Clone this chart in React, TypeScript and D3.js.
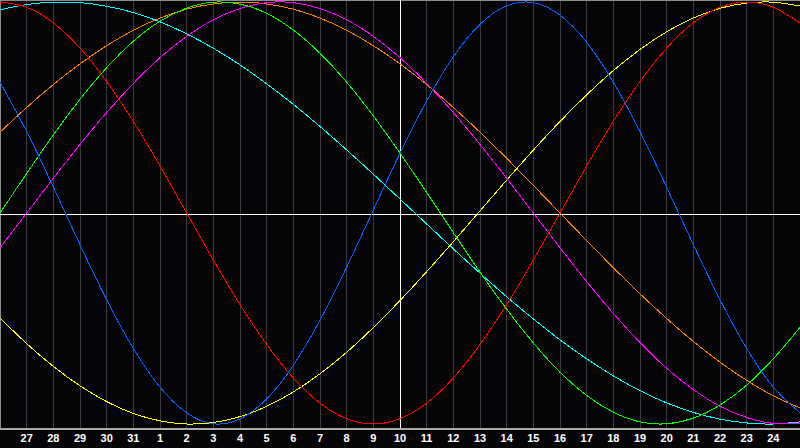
import * as d3 from "d3";

const WIDTH = 800;
const HEIGHT = 448;
const PLOT_BOTTOM = 428;

// day labels along the bottom; first grid column (x=0) is the 26th
const dayLabels = [
  "26", "27", "28", "29", "30", "31",
  "1", "2", "3", "4", "5", "6", "7", "8", "9", "10", "11", "12",
  "13", "14", "15", "16", "17", "18", "19", "20", "21", "22", "23", "24", "25",
];

// cycle values in percent, one per day
const physical = [62.0, 38.6, 12.3, -15.0, -41.1, -64.2, -82.5, -94.7, -99.9, -97.6, -88.1, -72.2, -50.8, -25.7, 1.4, 28.3, 53.1, 74.0, 89.4, 98.2, 99.7, 93.8, 80.9, 62.0, 38.6, 12.2, -15.0, -41.1, -64.2, -82.5, -94.7];
const emotional = [100, 97.5, 90.1, 78.2, 62.3, 43.4, 22.3, 0, -22.3, -43.4, -62.3, -78.2, -90.1, -97.5, -100, -97.5, -90.1, -78.2, -62.3, -43.4, -22.3, 0, 22.3, 43.4, 62.3, 78.2, 90.1, 97.5, 100, 97.5, 90.1];
const intellectual = [0, 18.7, 37.0, 53.9, 68.9, 81.4, 90.9, 97.1, 99.9, 99.0, 94.6, 86.7, 75.7, 62.0, 46.0, 28.4, 9.7, -9.3, -28.0, -45.6, -61.6, -75.5, -86.5, -94.4, -99.0, -99.9, -97.2, -91.0, -81.6, -69.1, -54.2];
const intuitive = [-16.5, 0, 16.5, 32.5, 47.6, 61.4, 73.6, 83.7, 91.6, 96.9, 99.7, 99.7, 96.9, 91.6, 83.7, 73.6, 61.4, 47.6, 32.5, 16.5, 0, -16.5, -32.5, -47.6, -61.4, -73.6, -83.7, -91.6, -96.9, -99.7, -99.7];
const aesthetic = [-49.8, -61.9, -72.7, -81.9, -89.4, -95.0, -98.5, -100, -99.3, -96.5, -91.6, -84.8, -76.2, -66.0, -54.3, -41.5, -27.8, -13.6, 1.0, 15.6, 29.8, 43.4, 56.0, 67.5, 77.5, 85.9, 92.4, 97.0, 99.5, 99.9, 98.1];
const awareness = [38.3, 50.0, 60.9, 70.7, 79.3, 86.6, 92.4, 96.6, 99.1, 100, 99.1, 96.6, 92.4, 86.6, 79.3, 70.7, 60.9, 50.0, 38.3, 25.9, 13.1, 0, -13.1, -25.9, -38.3, -50.0, -60.9, -70.7, -79.3, -86.6, -92.4];
const spiritual = [96.3, 98.8, 99.9, 99.7, 98.0, 95.0, 90.6, 84.9, 78.1, 70.2, 61.2, 51.5, 41.0, 29.9, 18.4, 6.6, -5.2, -17.0, -28.5, -39.7, -50.2, -60.1, -69.1, -77.2, -84.2, -90.0, -94.5, -97.7, -99.5, -100, -99.0];

const cycleNames = ["spiritual", "awareness", "aesthetic", "intuitive", "intellectual", "emotional", "physical"];
const cycleValues = [spiritual, awareness, aesthetic, intuitive, intellectual, emotional, physical];
const cycleColors = ["#00ffff", "#ff8000", "#ffff00", "#ff00ff", "#00ff00", "#ff0000", "#0066ff"];

export default function App() {
  const x = d3.scaleLinear().domain([0, dayLabels.length - 1]).range([0, WIDTH]);
  const y = d3.scaleLinear().domain([-100, 100]).range([424, 2]);

  const line = d3
    .line<number>()
    .x((_, i) => x(i))
    .y((d) => y(d))
    .curve(d3.curveNatural);

  const px = (v: number) => Math.floor(v) + 0.5;

  return (
    <svg
      width={WIDTH}
      height={HEIGHT}
      style={{ position: "absolute", left: 0, top: 0, background: "#050407" }}
    >
      <rect x={0} y={0} width={WIDTH} height={HEIGHT} fill="#050407" />
      {/* day grid */}
      {dayLabels.map((_, i) =>
        i === 0 || i === dayLabels.length - 1 ? null : (
          <line
            key={"g" + i}
            x1={px(x(i))}
            x2={px(x(i))}
            y1={0}
            y2={PLOT_BOTTOM}
            stroke="#3a3a3e"
            strokeWidth={1}
            shapeRendering="crispEdges"
          />
        )
      )}
      {/* frame */}
      <line x1={0} x2={WIDTH} y1={0.5} y2={0.5} stroke="#8c8c8c" shapeRendering="crispEdges" />
      <line x1={0.5} x2={0.5} y1={0} y2={PLOT_BOTTOM} stroke="#8c8c8c" shapeRendering="crispEdges" />
      {/* centre cross */}
      <line x1={0} x2={WIDTH} y1={214.5} y2={214.5} stroke="#ffffff" shapeRendering="crispEdges" />
      <line x1={px(x(15))} x2={px(x(15))} y1={0} y2={PLOT_BOTTOM} stroke="#ffffff" shapeRendering="crispEdges" />
      {/* cycles */}
      {cycleValues.map((vals, i) => (
        <path
          key={cycleNames[i]}
          d={line(vals) ?? ""}
          fill="none"
          stroke={cycleColors[i]}
          strokeWidth={1}
          shapeRendering="crispEdges"
        />
      ))}
      <line x1={0} x2={WIDTH} y1={PLOT_BOTTOM + 0.5} y2={PLOT_BOTTOM + 0.5} stroke="#a8a8a8" strokeWidth={2} shapeRendering="crispEdges" />
      {/* day labels */}
      {dayLabels.map((d, i) =>
        i === 0 || i === dayLabels.length - 1 ? null : (
          <text
            key={"t" + i}
            x={x(i)}
            y={442}
            textAnchor="middle"
            fill="#ffffff"
            fontFamily="Liberation Sans, Arial, sans-serif"
            fontWeight="bold"
            fontSize={11}
          >
            {d}
          </text>
        )
      )}
    </svg>
  );
}
